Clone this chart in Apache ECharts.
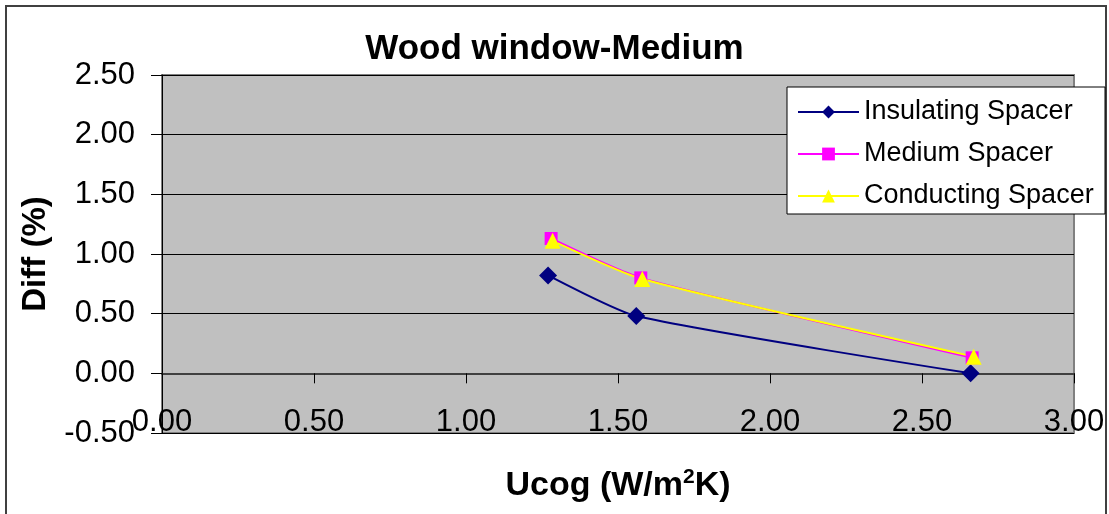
<!DOCTYPE html>
<html>
<head>
<meta charset="utf-8">
<script src="https://cdn.jsdelivr.net/npm/echarts@6/dist/echarts.min.js"></script>
<style>
html,body{margin:0;padding:0;background:#fff;}
#chart{width:1109px;height:514px;}
</style>
</head>
<body>
<div id="chart"></div>
<script>
const chartTitle = 'Wood window-Medium';
const seriesNames = ['Insulating Spacer', 'Medium Spacer', 'Conducting Spacer'];
const insulatingX = [1.27, 1.56, 2.66];
const insulatingY = [0.82, 0.48, 0.00];
const mediumX = [1.28, 1.575, 2.665];
const mediumY = [1.13, 0.80, 0.13];
const conductingX = [1.285, 1.58, 2.67];
const conductingY = [1.11, 0.79, 0.14];
const yTicks = [-0.5, 0, 0.5, 1, 1.5, 2, 2.5];
const xTicks = [0, 0.5, 1, 1.5, 2, 2.5, 3];

function pairs(xs, ys) { return xs.map((x, i) => [x, ys[i]]); }

const FONT = '"Liberation Sans", Arial, sans-serif';
const chart = echarts.init(document.getElementById('chart'), null, {renderer: 'canvas'});
chart.setOption({
  animation: false,
  backgroundColor: '#fff',
  title: {
    text: chartTitle, left: 'center', top: 27,
    textStyle: {fontFamily: FONT, fontSize: 35, fontWeight: 'bold', color: '#000'}
  },
  grid: {
    left: 162, right: 35, top: 75, bottom: 81,
    outerBoundsMode: 'none', containLabel: false,
    show: true, backgroundColor: '#C0C0C0', borderColor: '#808080', borderWidth: 2
  },
  graphic: [
    {type: 'rect', z: 100, shape: {x: 6, y: 6, width: 1100, height: 540},
     style: {fill: 'none', stroke: '#404040', lineWidth: 2}},
    {type: 'rect', z: 100, shape: {x: 787, y: 87, width: 318, height: 127},
     style: {fill: '#fff', stroke: '#000', lineWidth: 1}}
  ],
  legend: {
    z: 200, orient: 'vertical', left: 787, top: 89,
    padding: [8, 8, 5, 10],
    itemWidth: 61, itemHeight: 16, itemGap: 12,
    data: seriesNames,
    textStyle: {fontFamily: FONT, fontSize: 27, color: '#000', lineHeight: 30}
  },
  xAxis: {
    type: 'value', min: 0, max: 3, interval: 0.5,
    name: '{a|Ucog (W/m}{s|2}{a|K)}', nameLocation: 'middle', nameGap: 34,
    nameTextStyle: {
      rich: {
        a: {fontFamily: FONT, fontSize: 34, fontWeight: 'bold', color: '#000'},
        s: {fontFamily: FONT, fontSize: 21, fontWeight: 'bold', color: '#000', verticalAlign: 'top', padding: [0, 0, 16, 0]}
      }
    },
    axisLine: {show: true, onZero: true, lineStyle: {color: '#404040', width: 2}},
    axisTick: {show: true, length: 10, lineStyle: {color: '#000'}},
    axisLabel: {margin: -26, fontFamily: FONT, fontSize: 31, color: '#000',
      formatter: v => v.toFixed(2)},
    splitLine: {show: false}
  },
  yAxis: {
    type: 'value', min: -0.5, max: 2.5, interval: 0.5,
    name: 'Diff (%)', nameLocation: 'middle', nameGap: 110, nameRotate: 90,
    nameTextStyle: {fontFamily: FONT, fontSize: 33, fontWeight: 'bold', color: '#000'},
    axisLine: {show: true, lineStyle: {color: '#000', width: 1}},
    axisTick: {show: true, length: 11, lineStyle: {color: '#000'}},
    axisLabel: {margin: 27, fontFamily: FONT, fontSize: 31, color: '#000',
      formatter: v => v.toFixed(2)},
    splitLine: {show: true, lineStyle: {color: '#000', width: 1}}
  },
  series: [
    {name: seriesNames[0], type: 'line', smooth: 0.2, data: pairs(insulatingX, insulatingY),
     symbol: 'diamond', symbolSize: 18, color: '#000080',
     lineStyle: {color: '#000080', width: 2}, itemStyle: {color: '#000080'}},
    {name: seriesNames[1], type: 'line', smooth: 0.2, data: pairs(mediumX, mediumY),
     symbol: 'rect', symbolSize: 13, color: '#FF00FF',
     lineStyle: {color: '#FF00FF', width: 2}, itemStyle: {color: '#FF00FF'}},
    {name: seriesNames[2], type: 'line', smooth: 0.2, data: pairs(conductingX, conductingY),
     symbol: 'triangle', symbolSize: 16, color: '#FFFF00',
     lineStyle: {color: '#FFFF00', width: 2}, itemStyle: {color: '#FFFF00'}}
  ]
});
</script>
</body>
</html>
